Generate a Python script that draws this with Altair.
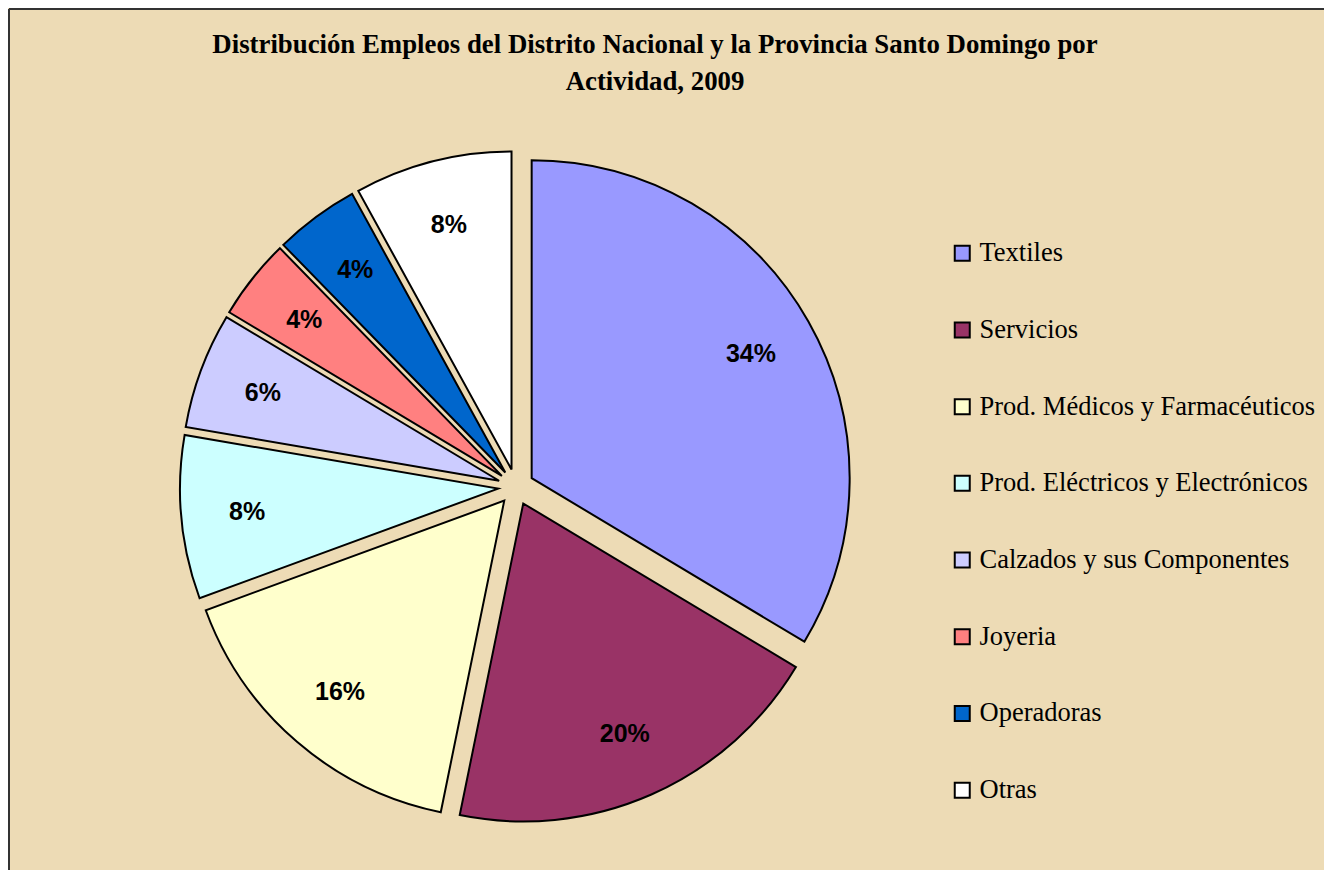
import altair as alt
import pandas as pd

# ---- data ----
categories = [
    "Textiles",
    "Servicios",
    "Prod. Médicos y Farmacéuticos",
    "Prod. Eléctricos y Electrónicos",
    "Calzados y sus Componentes",
    "Joyeria",
    "Operadoras",
    "Otras",
]
shares = [33.6, 19.6, 16.2, 8.3, 5.9, 4.1, 4.3, 8.0]
colors = ["#9999FF", "#993366", "#FFFFCC", "#CCFFFF", "#CCCCFF", "#FF8080", "#0066CC", "#FFFFFF"]
title_lines = [
    "Distribución Empleos del Distrito Nacional y la Provincia Santo Domingo por",
    "Actividad, 2009",
]

df = pd.DataFrame({"Actividad": categories, "Empleo": shares, "orden": list(range(len(categories)))})

# ---- layout / style ----
W, H = 1316, 862
CX, CY = 507, 478       # pie centre in the view
R = 318                 # pie radius
EXPLODE = 18            # slice explosion
LABEL_R = 252           # label distance from slice tip
BG = "#EDDBB5"
SERIF = "Times New Roman, Liberation Serif, serif"
SANS = "Arial, Liberation Sans, sans-serif"

base = (
    alt.Chart(df)
    .transform_joinaggregate(total="sum(Empleo)")
    .transform_window(cum="sum(Empleo)", sort=[alt.SortField("orden")])
    .transform_calculate(mid="(datum.cum - datum.Empleo / 2) / datum.total * 2 * PI")
    .transform_calculate(
        px=f"{CX} + {EXPLODE} * sin(datum.mid)",
        py=f"{CY} - {EXPLODE} * cos(datum.mid)",
        lx=f"{CX} + {EXPLODE + LABEL_R} * sin(datum.mid)",
        ly=f"{CY} - {EXPLODE + LABEL_R} * cos(datum.mid)",
        pct="format(datum.Empleo / datum.total, '.0%')",
    )
)

pie = base.mark_arc(outerRadius=R, stroke="black", strokeWidth=2).encode(
    theta=alt.Theta("Empleo:Q", stack=True),
    order=alt.Order("orden:Q"),
    color=alt.Color(
        "Actividad:N",
        sort=categories,
        scale=alt.Scale(domain=categories, range=colors),
        legend=alt.Legend(
            title=None,
            orient="none",
            legendX=940,
            legendY=231,
            symbolType="square",
            symbolSize=225,
            symbolStrokeColor="black",
            symbolStrokeWidth=2,
            symbolOpacity=1,
            labelFont=SERIF,
            labelFontSize=26.5,
            labelColor="black",
            labelOffset=4,
            labelLimit=0,
            rowPadding=49.7,
        ),
    ),
    x=alt.X("px:Q", scale=None, axis=None),
    y=alt.Y("py:Q", scale=None, axis=None),
)

labels = base.mark_text(font=SANS, fontSize=25, fontWeight="bold", color="black").encode(
    x=alt.X("lx:Q", scale=None, axis=None),
    y=alt.Y("ly:Q", scale=None, axis=None),
    text="pct:N",
)

frame_df = pd.DataFrame({"f": [0]})
left_edge = alt.Chart(frame_df).mark_rule(color="#333333", strokeWidth=2).encode(
    x=alt.value(0), y=alt.value(0), y2=alt.value(H)
)
top_edge = alt.Chart(frame_df).mark_rule(color="#333333", strokeWidth=2).encode(
    x=alt.value(0), x2=alt.value(W), y=alt.value(0)
)

chart = (
    alt.layer(pie, labels, left_edge, top_edge)
    .properties(
        width=W,
        height=H,
        padding=0,
        autosize=alt.AutoSizeParams(type="fit", contains="padding"),
        background=BG,
        title=alt.Title(
            title_lines,
            font=SERIF,
            fontSize=26.8,
            fontWeight="bold",
            color="black",
            anchor="middle",
            lineHeight=37,
            offset=-88,
            dx=-11,
        ),
    )
    .configure_view(stroke=None)
)

chart.save("out.html", embed_options={"renderer": "svg", "actions": False})
